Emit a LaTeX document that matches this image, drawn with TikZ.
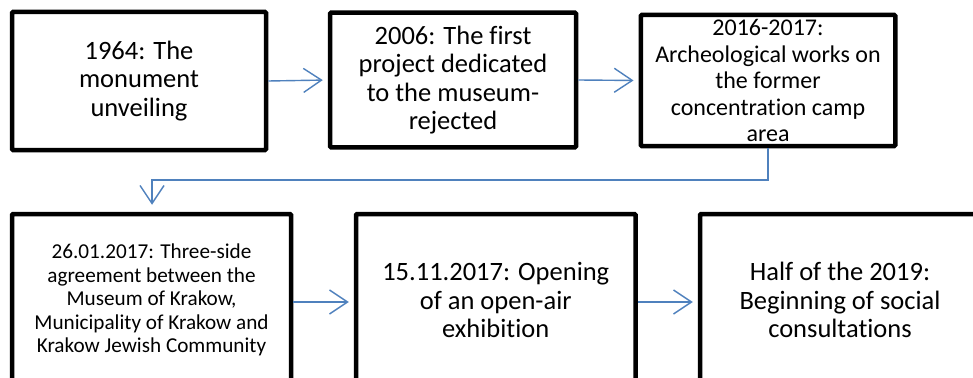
\documentclass[tikz,border=0pt]{standalone}
\usepackage{fontspec}
\setmainfont{Carlito}[Ligatures={NoCommon}]
\usetikzlibrary{arrows.meta}
\definecolor{arrowblue}{RGB}{79,129,189}
\tikzset{
  evbox/.style={draw=black, line width=4.5pt, fill=white, align=center, inner sep=0pt, rounded corners=1pt},
  bigtxt/.style={font=\fontsize{26.5}{28.5}\selectfont},
  midtxt/.style={font=\fontsize{24}{26.5}\selectfont},
  smalltxt/.style={font=\fontsize{21.2}{23.5}\selectfont},
  flow/.style={draw=arrowblue, line width=1.4pt, -{Straight Barb[length=18pt,width=24pt,line width=1.4pt]}, shorten >=5pt}
}
\begin{document}
\begin{tikzpicture}[x=1pt,y=-1pt]
\useasboundingbox (0,0) rectangle (973,377);
\clip (0,0) rectangle (973,377);
\fill[white] (0,0) rectangle (973,377);
\node[evbox, bigtxt, minimum width=254pt, minimum height=138pt] (b1) at (139,81) {1964: The\\monument\\unveiling};
\node[evbox, bigtxt, minimum width=246pt, minimum height=134.5pt] (b2) at (453,80) {2006: The first\\project dedicated\\to the museum-\\rejected};
\node[evbox, midtxt, minimum width=254.5pt, minimum height=131pt] (b3) at (768,80.5) {2016-2017:\\Archeological works on\\the former\\concentration camp\\area};
\node[evbox, smalltxt, minimum width=279pt, minimum height=172pt] (b4) at (151.5,300) {26.01.2017: Three-side\\agreement between the\\Museum of Krakow,\\Municipality of Krakow and\\Krakow Jewish Community};
\node[evbox, bigtxt, minimum width=279.5pt, minimum height=172pt] (b5) at (495.75,300) {15.11.2017: Opening\\of an open-air\\exhibition};
\node[evbox, bigtxt, minimum width=280pt, minimum height=172pt] (b6) at (840,300) {Half of the 2019:\\Beginning of social\\consultations};
\coordinate (k1) at (768,180);
\coordinate (k2) at (152,180);
\draw[flow] (b1.east) -- (b2.west);
\draw[flow] (b2.east) -- (b3.west);
\draw[flow, shorten >=7pt] (b3.south) -- (k1) -- (k2) -- (b4.north -| k2);
\draw[flow] ([yshift=-2pt]b4.east) -- ([yshift=-2pt]b5.west);
\draw[flow] ([yshift=-2pt]b5.east) -- ([yshift=-2pt]b6.west);
\end{tikzpicture}
\end{document}
